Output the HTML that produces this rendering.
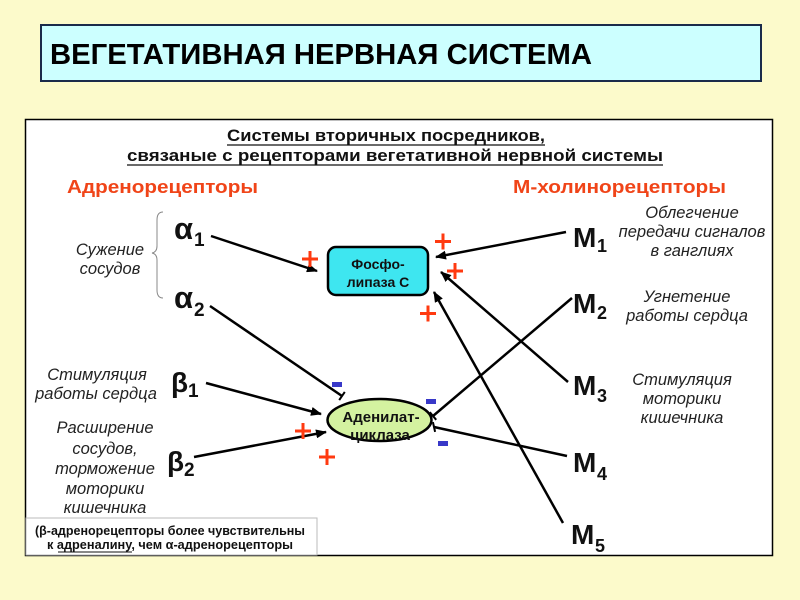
<!DOCTYPE html>
<html><head><meta charset="utf-8"><style>
html,body{margin:0;padding:0;background:#fcfacb;}
svg{display:block;}
text{font-family:"Liberation Sans",Arial,sans-serif;}
</style></head><body>
<svg width="800" height="600" viewBox="0 0 800 600" xmlns="http://www.w3.org/2000/svg">
<defs>
<marker id="ah" markerWidth="11" markerHeight="9" refX="10" refY="4.5" orient="auto" markerUnits="userSpaceOnUse">
<path d="M0,0 L11,4.5 L0,9 z" fill="#000"/>
</marker>
</defs>
<rect x="0" y="0" width="800" height="600" fill="#fcfacb"/>
<!-- title -->
<rect x="41" y="25" width="720" height="56" fill="#ccffff" stroke="#1a2a4a" stroke-width="2"/>
<text x="50" y="64" font-size="29" font-weight="bold" fill="#000" textLength="542" lengthAdjust="spacingAndGlyphs">ВЕГЕТАТИВНАЯ НЕРВНАЯ СИСТЕМА</text>
<!-- frame -->
<rect x="25.5" y="119.5" width="747" height="436" fill="#fff" stroke="#000" stroke-width="1.5"/>
<!-- headings -->
<text x="386" y="141" font-size="17" font-weight="bold" text-anchor="middle" fill="#111" textLength="318" lengthAdjust="spacingAndGlyphs">Системы вторичных посредников,</text>
<line x1="227" y1="145" x2="545" y2="145" stroke="#111" stroke-width="1.3"/>
<text x="395" y="161" font-size="17" font-weight="bold" text-anchor="middle" fill="#111" textLength="536" lengthAdjust="spacingAndGlyphs">связаные с рецепторами вегетативной нервной системы</text>
<line x1="127" y1="165" x2="663" y2="165" stroke="#111" stroke-width="1.3"/>
<text x="67" y="193" font-size="18.5" font-weight="bold" fill="#f04418" textLength="191" lengthAdjust="spacingAndGlyphs">Адренорецепторы</text>
<text x="513" y="193" font-size="18.5" font-weight="bold" fill="#f04418" textLength="213" lengthAdjust="spacingAndGlyphs">М-холинорецепторы</text>
<!-- brace -->
<path d="M163,212 Q157,212 157,220 L157,246 Q157,252 152,253 Q157,254 157,260 L157,290 Q157,298 163,298" fill="none" stroke="#888" stroke-width="1"/>
<!-- italic labels -->
<g font-size="16.5" font-style="italic" fill="#222" text-anchor="middle">
<text x="110" y="255">Сужение</text>
<text x="110" y="274">сосудов</text>
<text x="97" y="380">Стимуляция</text>
<text x="96" y="399">работы сердца</text>
<text x="105" y="433">Расширение</text>
<text x="105" y="454">сосудов,</text>
<text x="105" y="474">торможение</text>
<text x="105" y="494">моторики</text>
<text x="105" y="513">кишечника</text>
<text x="692" y="218">Облегчение</text>
<text x="692" y="237">передачи сигналов</text>
<text x="692" y="256">в ганглиях</text>
<text x="687" y="302">Угнетение</text>
<text x="687" y="321">работы сердца</text>
<text x="682" y="385">Стимуляция</text>
<text x="682" y="404">моторики</text>
<text x="682" y="423">кишечника</text>
</g>
<!-- receptor labels -->
<g font-weight="bold" fill="#111">
<text x="174" y="239" font-size="31">α</text><text x="194" y="246" font-size="19">1</text>
<text x="174" y="308" font-size="31">α</text><text x="194" y="316" font-size="19">2</text>
<text x="171" y="392" font-size="28">β</text><text x="188" y="397" font-size="19">1</text>
<text x="167" y="471" font-size="28">β</text><text x="184" y="476" font-size="19">2</text>
<text x="573" y="247" font-size="28">M</text><text x="597" y="252" font-size="18">1</text>
<text x="573" y="313" font-size="28">M</text><text x="597" y="319" font-size="18">2</text>
<text x="573" y="395" font-size="28">M</text><text x="597" y="402" font-size="18">3</text>
<text x="573" y="472" font-size="28">M</text><text x="597" y="480" font-size="18">4</text>
<text x="571" y="544" font-size="28">M</text><text x="595" y="552" font-size="18">5</text>
</g>
<!-- connectors -->
<g stroke="#000" stroke-width="2.5" fill="none">
<line x1="211" y1="236" x2="317" y2="271" marker-end="url(#ah)"/>
<line x1="210" y1="306" x2="342" y2="396"/>
<line x1="339.2" y1="400.1" x2="344.8" y2="391.9" stroke-width="2"/>
<line x1="206" y1="383" x2="321" y2="414" marker-end="url(#ah)"/>
<line x1="194" y1="457" x2="326" y2="432" marker-end="url(#ah)"/>
<line x1="566" y1="232" x2="436" y2="257" marker-end="url(#ah)"/>
<line x1="568" y1="382" x2="441" y2="272" marker-end="url(#ah)"/>
<line x1="563" y1="523" x2="434" y2="292" marker-end="url(#ah)"/>
<line x1="572" y1="298" x2="433" y2="416"/>
<line x1="429.8" y1="412.2" x2="436.2" y2="419.8" stroke-width="2"/>
<line x1="567" y1="456" x2="434" y2="427"/>
<line x1="432.9" y1="422.1" x2="435.1" y2="431.9" stroke-width="2"/>
</g>
<!-- Fosfolipaza -->
<rect x="328" y="247" width="100" height="48" rx="8" ry="8" fill="#3ee6f0" stroke="#000" stroke-width="2.5"/>
<text x="378" y="269" font-size="14" font-weight="bold" text-anchor="middle" fill="#111">Фосфо-</text>
<text x="378" y="287" font-size="14" font-weight="bold" text-anchor="middle" fill="#111">липаза С</text>
<!-- Adenylate cyclase -->
<ellipse cx="379.5" cy="420" rx="52" ry="21" fill="#d4f2a0" stroke="#000" stroke-width="2.5"/>
<text x="381" y="422" font-size="15" font-weight="bold" text-anchor="middle" fill="#111">Аденилат-</text>
<text x="380" y="440" font-size="15" font-weight="bold" text-anchor="middle" fill="#111">циклаза</text>
<!-- plus signs -->
<g stroke="#ff3a10" stroke-width="3">
<path d="M302,259 H318 M310,251 V267"/>
<path d="M435,241.5 H451 M443,233.5 V249.5"/>
<path d="M447,271 H463 M455,263 V279"/>
<path d="M420,313.5 H436 M428,305.5 V321.5"/>
<path d="M295,431 H311 M303,423 V439"/>
<path d="M319,457 H335 M327,449 V465"/>
</g>
<!-- minus signs -->
<g fill="#3838c8">
<rect x="332" y="382" width="10" height="5"/>
<rect x="426" y="399" width="10" height="5"/>
<rect x="438" y="441" width="10" height="5"/>
</g>
<!-- note box -->
<rect x="26" y="518" width="291" height="37" fill="#fff" stroke="#bbb" stroke-width="1"/>
<text x="170" y="535" font-size="13" font-weight="bold" text-anchor="middle" fill="#111" textLength="270" lengthAdjust="spacingAndGlyphs">(β-адренорецепторы более чувствительны</text>
<text x="170" y="549" font-size="13" font-weight="bold" text-anchor="middle" fill="#111" textLength="246" lengthAdjust="spacingAndGlyphs">к адреналину, чем  α-адренорецепторы</text>
<line x1="58" y1="552" x2="132" y2="552" stroke="#111" stroke-width="1"/>
</svg>
</body></html>
